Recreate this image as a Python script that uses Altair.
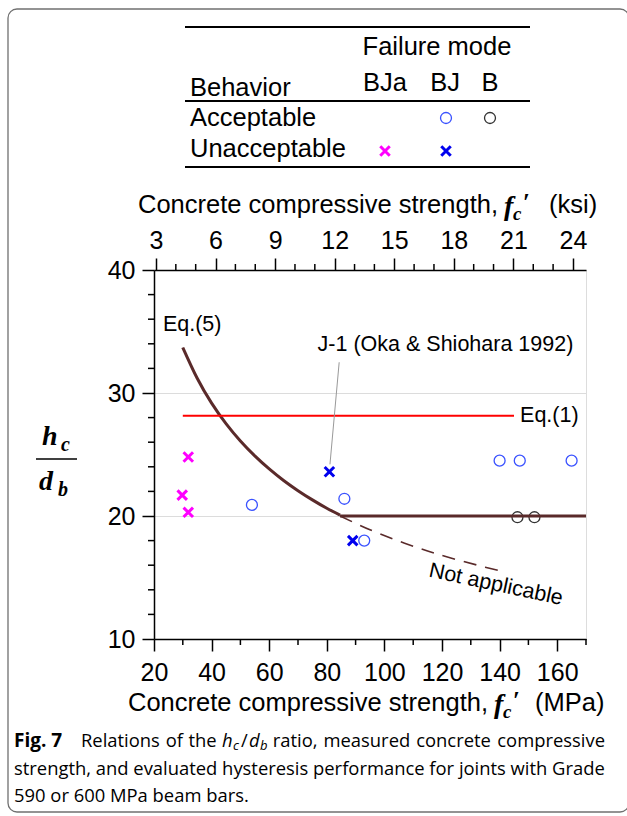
import altair as alt
import pandas as pd

# ---------------- data ----------------
# BJa / Unacceptable (magenta x)
bja_unacc_fc = [31.9, 29.8, 31.9]
bja_unacc_r = [24.8, 21.7, 20.3]
# BJ / Unacceptable (blue x)
bj_unacc_fc = [80.9, 89.0]
bj_unacc_r = [23.6, 18.0]
# BJ / Acceptable (blue circles)
bj_acc_fc = [54.0, 86.1, 93.0, 140.0, 147.0, 165.0]
bj_acc_r = [20.9, 21.4, 18.0, 24.5, 24.5, 24.5]
# B / Acceptable (dark circles)
b_acc_fc = [146.2, 152.1]
b_acc_r = [19.9, 19.9]

# Eq.(5) curve
eq5_fc = [30.0, 35.0, 40.0, 45.0, 50.0, 55.0, 60.0, 65.0, 70.0, 75.0, 80.0, 84.6]
eq5_r = [33.70, 31.20, 29.18, 27.51, 26.10, 24.89, 23.83, 22.89, 22.06, 21.31, 20.63, 20.07]
# Eq.(5) plateau
flat_fc = [84.6, 170.0]
flat_r = [20.0, 20.0]
# Not applicable (dashed)
na_fc = [84.6, 95.0, 105.0, 115.0, 125.0, 135.0, 141.3]
na_r = [20.0, 18.88, 17.96, 17.16, 16.46, 15.84, 15.48]
# Eq.(1) line
eq1_fc = [30.0, 145.0]
eq1_r = [28.15, 28.15]
# J-1 leader
lead_fc = [84.3, 81.1]
lead_r = [32.5, 24.2]

# axis ticks
x_major = [20, 40, 60, 80, 100, 120, 140, 160]
x_minor = [30, 50, 70, 90, 110, 130, 150, 170]
y_major = [10, 20, 30, 40]
y_minor = [12, 14, 16, 18, 22, 24, 26, 28, 32, 34, 36, 38]
ksi_major = [3, 6, 9, 12, 15, 18, 21, 24]
ksi_minor = [4, 5, 7, 8, 10, 11, 13, 14, 16, 17, 19, 20, 22, 23]
MPA_PER_KSI = 6.894757

W, H = 432, 369
OX, OY = 154, 270  # plot origin in page

XS = alt.Scale(domain=[20, 170], nice=False, zero=False)
YS = alt.Scale(domain=[10, 40], nice=False, zero=False)
KS = alt.Scale(domain=[20 / MPA_PER_KSI, 170 / MPA_PER_KSI], nice=False, zero=False)
SANS = "Liberation Sans"
SERIF = "Liberation Serif"
CAP = "Open Sans"
TICKF = 25
MAJ, MIN_ = 12, 6

def df(xs, ys):
    return pd.DataFrame({"fc": xs, "r": ys})

common_axis = dict(labelFontSize=TICKF, labelFont=SANS, labelColor="#000",
                   tickColor="#000", tickWidth=1.5, domainColor="#000", domainWidth=1.5,
                   labelFlush=False, labelOverlap=False, title=None, tickSize=MAJ)

xenc = alt.X("fc:Q", scale=XS, axis=alt.Axis(
    values=x_major, orient="bottom", labelPadding=9, grid=False, **common_axis))
yenc = alt.Y("r:Q", scale=YS, axis=alt.Axis(
    values=y_major, labelPadding=7,
    grid=True, gridColor="#dcdcdc", gridWidth=1, **common_axis))

xplain = alt.X("fc:Q", scale=XS)
yplain = alt.Y("r:Q", scale=YS)

XSHAPE = "M-1,-1L1,1M-1,1L1,-1"

base = alt.Chart(df(bj_acc_fc, bj_acc_r)).mark_point(
    shape="circle", size=120, stroke="#3a52ff", strokeWidth=1.3, fill=None, opacity=1
).encode(x=xenc, y=yenc)

b_acc = alt.Chart(df(b_acc_fc, b_acc_r)).mark_point(
    shape="circle", size=120, stroke="#333333", strokeWidth=1.3, fill=None, opacity=1
).encode(x=xplain, y=yplain)

bja_x = alt.Chart(df(bja_unacc_fc, bja_unacc_r)).mark_point(
    shape=XSHAPE, size=90, stroke="#ff00ff", strokeWidth=3, opacity=1
).encode(x=xplain, y=yplain)

bj_x = alt.Chart(df(bj_unacc_fc, bj_unacc_r)).mark_point(
    shape=XSHAPE, size=90, stroke="#0000ee", strokeWidth=3, opacity=1
).encode(x=xplain, y=yplain)

eq5 = alt.Chart(df(eq5_fc, eq5_r)).mark_line(
    color="#5a2a2a", strokeWidth=3, interpolate="natural"
).encode(x=xplain, y=yplain, order="fc:Q")

flat = alt.Chart(df(flat_fc, flat_r)).mark_line(
    color="#5a2a2a", strokeWidth=3
).encode(x=xplain, y=yplain)

na = alt.Chart(df(na_fc, na_r)).mark_line(
    color="#5a2a2a", strokeWidth=1.6, strokeDash=[13, 9], interpolate="natural"
).encode(x=xplain, y=yplain, order="fc:Q")

eq1 = alt.Chart(df(eq1_fc, eq1_r)).mark_line(color="#ff0000", strokeWidth=2).encode(
    x=xplain, y=yplain)

lead = alt.Chart(df(lead_fc, lead_r)).mark_line(color="#999999", strokeWidth=1).encode(
    x=xplain, y=yplain)

# minor ticks (through the scales)
xminor = alt.Chart(pd.DataFrame({"fc": x_minor})).mark_rule(color="#000", strokeWidth=1.5).encode(
    x=xplain, y=alt.value(H), y2=alt.value(H + MIN_))
yminor = alt.Chart(pd.DataFrame({"r": y_minor})).mark_rule(color="#000", strokeWidth=1.5).encode(
    y=yplain, x=alt.value(-MIN_), x2=alt.value(0))

def dtext(s, fc, r, size=21.5, align="left", angle=0):
    return alt.Chart(df([fc], [r])).mark_text(
        text=s, align=align, baseline="middle", fontSize=size,
        font=SANS, color="#000", angle=angle
    ).encode(x=xplain, y=yplain)

ann = [
    dtext("Eq.(5)", 23.1, 35.5),
    dtext("J-1 (Oka & Shiohara 1992)", 76.8, 33.9),
    dtext("Eq.(1)", 147.1, 28.15),
    dtext("Not applicable", 138.7, 14.4, align="center", angle=12),
]

# top ksi axis (independent scale)
ksi_axis_layer = alt.Chart(pd.DataFrame({"ksi": ksi_major})).mark_point(opacity=0).encode(
    x=alt.X("ksi:Q", scale=KS,
            axis=alt.Axis(orient="top", values=ksi_major, labelPadding=5, grid=False, **common_axis)),
    y=alt.value(H / 2))
ksi_minor_layer = alt.Chart(pd.DataFrame({"ksi": ksi_minor})).mark_rule(color="#000", strokeWidth=1.5).encode(
    x=alt.X("ksi:Q", scale=KS), y=alt.value(-MIN_), y2=alt.value(0))
ksi = alt.layer(ksi_axis_layer, ksi_minor_layer)

ONE = alt.Data(values=[{"a": 1}])

def ptext(s, ax, ay, size, font=SANS, align="left", baseline="middle",
          weight="normal", style="normal", color="#000"):
    return alt.Chart(ONE).mark_text(
        text=s, align=align, baseline=baseline, fontSize=size, font=font,
        fontWeight=weight, fontStyle=style, color=color
    ).encode(x=alt.value(ax - OX), y=alt.value(ay - OY))

def prule(x1, y1, x2, y2, color="#000", width=1.5):
    return alt.Chart(ONE).mark_rule(color=color, strokeWidth=width).encode(
        x=alt.value(x1 - OX), x2=alt.value(x2 - OX), y=alt.value(y1 - OY), y2=alt.value(y2 - OY))

def ppoint(ax, ay, shape, color, size=120, sw=1.3):
    return alt.Chart(ONE).mark_point(
        shape=shape, size=size, stroke=color, strokeWidth=sw, fill=None, opacity=1
    ).encode(x=alt.value(ax - OX), y=alt.value(ay - OY))

LEG = 25.5
TT = 25.5
CS = 18.4

extras = [
    # frame
    alt.Chart(ONE).mark_rect(fill=None, stroke="#707070", strokeWidth=1.3, cornerRadius=9).encode(
        x=alt.value(8 - OX), x2=alt.value(629 - OX), y=alt.value(9 - OY), y2=alt.value(812 - OY)),
    # legend table
    prule(185, 27, 530, 27, width=2),
    prule(185, 101, 530, 101, width=2),
    prule(185, 167, 530, 167, width=2),
    ptext("Failure mode", 437, 47, LEG, align="center"),
    ptext("Behavior", 190, 88, LEG),
    ptext("BJa", 385, 83, LEG, align="center"),
    ptext("BJ", 445, 83, LEG, align="center"),
    ptext("B", 490, 83, LEG, align="center"),
    ptext("Acceptable", 190, 118, LEG),
    ptext("Unacceptable", 190, 149, LEG),
    ppoint(446, 118, "circle", "#3a52ff"),
    ppoint(490, 118, "circle", "#333333"),
    ppoint(385, 151, XSHAPE, "#ff00ff", size=90, sw=3),
    ppoint(446, 151, XSHAPE, "#0000ee", size=90, sw=3),
    # top axis title
    ptext("Concrete compressive strength,", 138, 205, TT),
    ptext("f", 504, 207, 28, font=SERIF, weight="bold", style="italic"),
    ptext("c", 513, 214, 19, font=SERIF, weight="bold", style="italic"),
    ptext("\u2032", 523, 203, 25, font=SERIF, weight="bold"),
    ptext("(ksi)", 549, 205, TT),
    # bottom axis title
    ptext("Concrete compressive strength,", 128, 703, TT),
    ptext("f", 494, 705, 28, font=SERIF, weight="bold", style="italic"),
    ptext("c", 503, 712, 19, font=SERIF, weight="bold", style="italic"),
    ptext("\u2032", 513, 701, 25, font=SERIF, weight="bold"),
    ptext("(MPa)", 535, 703, TT),
    # y axis title fraction
    ptext("h", 42, 445, 28, font=SERIF, weight="bold", style="italic", baseline="alphabetic"),
    ptext("c", 61, 451, 20, font=SERIF, weight="bold", style="italic", baseline="alphabetic"),
    prule(36, 459, 77, 459, width=1.6),
    ptext("d", 39, 490, 28, font=SERIF, weight="bold", style="italic", baseline="alphabetic"),
    ptext("b", 58, 496, 20, font=SERIF, weight="bold", style="italic", baseline="alphabetic"),
    # caption line 1 (justified)
    ptext("Fig. 7", 14, 741, CS + 0.6, font=CAP, weight="bold"),
    ptext("Relations", 81, 741, CS, font=CAP),
    ptext("of", 165.7, 741, CS, font=CAP),
    ptext("the", 188.4, 741, CS, font=CAP),
    ptext("h", 222, 741, CS, font=CAP, style="italic"),
    ptext("c", 233, 746, 13, font=CAP, style="italic"),
    ptext("/", 241, 741, CS, font=CAP),
    ptext("d", 249, 741, CS, font=CAP, style="italic"),
    ptext("b", 260, 746, 13, font=CAP, style="italic"),
    ptext("ratio,", 272.8, 741, CS, font=CAP),
    ptext("measured", 323.5, 741, CS, font=CAP),
    ptext("concrete", 416.2, 741, CS, font=CAP),
    ptext("compressive", 605, 741, CS, font=CAP, align="right"),
    ptext("strength, and evaluated hysteresis performance for joints with Grade", 14, 769, CS, font=CAP),
    ptext("590 or 600 MPa beam bars.", 14, 796, CS, font=CAP),
]

main = alt.layer(base, b_acc, bja_x, bj_x, eq5, flat, na, eq1, lead, xminor, yminor, *ann, *extras)

chart = alt.layer(main, ksi).resolve_scale(x="independent").properties(
    width=W, height=H,
    autosize=alt.AutoSizeParams(type="none"),
    padding={"left": OX, "top": OY, "right": 627 - OX - W, "bottom": 816 - OY - H},
).configure_view(stroke="#000", strokeWidth=1.5).configure(background="white")

chart.save("out.html", embed_options={"renderer": "svg", "actions": False})
